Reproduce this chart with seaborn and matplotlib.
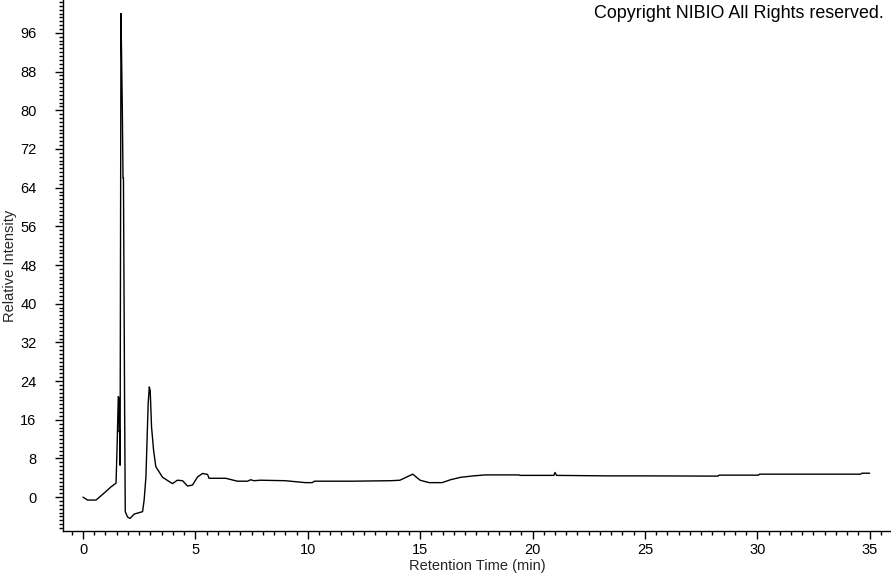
import numpy as np
import pandas as pd
import seaborn as sns
import matplotlib.pyplot as plt
from matplotlib.ticker import MultipleLocator

# chromatogram trace (retention time in min, relative intensity)
rt_min = [
    0.00, 0.20, 0.58, 0.93, 1.24, 1.47, 1.52, 1.57, 1.60, 1.61, 1.64, 1.65,
    1.69, 1.72, 1.75, 1.78, 1.80, 1.85, 1.88, 1.98, 2.09, 2.28, 2.65, 2.72,
    2.80, 2.90, 2.95, 2.99, 3.05, 3.14, 3.24, 3.39, 3.54, 3.98, 4.20, 4.43,
    4.65, 4.87, 5.10, 5.32, 5.54, 5.61, 6.35, 6.87, 7.32, 7.46, 7.60, 7.90,
    9.00, 9.90, 10.20, 10.30, 12.00, 13.70, 14.10, 14.67, 15.00, 15.40, 15.98,
    16.35, 16.80, 17.38, 17.90, 19.38, 19.45, 20.95, 21.00, 21.07, 23.30,
    24.80, 28.25, 28.30, 30.05, 30.10, 34.60, 34.65, 35.00,
]
intensity = [
    0.0, -0.6, -0.6, 0.8, 2.1, 2.9, 11.0, 20.8, 20.5, 13.5, 14.0, 6.6,
    100.0, 90.0, 80.0, 66.0, 66.0, 20.0, -3.0, -4.1, -4.4, -3.5, -3.0, -0.6,
    4.2, 19.4, 22.8, 22.0, 14.5, 9.7, 6.3, 5.2, 4.1, 2.8, 3.5, 3.4,
    2.3, 2.5, 4.2, 4.9, 4.7, 3.9, 3.9, 3.3, 3.3, 3.6, 3.4, 3.5,
    3.4, 3.0, 3.0, 3.3, 3.3, 3.4, 3.5, 4.75, 3.5, 3.0, 3.0,
    3.6, 4.1, 4.4, 4.6, 4.6, 4.5, 4.5, 5.1, 4.5, 4.4,
    4.4, 4.35, 4.55, 4.55, 4.75, 4.75, 4.95, 4.95,
]

y_ticks = list(range(0, 97, 8))
x_ticks = [0, 5, 10, 15, 20, 25, 30, 35]

df = pd.DataFrame({"rt": rt_min, "rel": intensity})

sns.set_style("ticks")
plt.rcParams["font.family"] = ["Liberation Sans", "DejaVu Sans"]

fig = plt.figure(figsize=(8.91, 5.73), dpi=100)
ax = fig.add_axes([63 / 891, 42 / 573, 1 - 63 / 891, 1 - 42 / 573])

sns.lineplot(data=df, x="rt", y="rel", ax=ax, color="black", linewidth=1.0,
             estimator=None, sort=False)

ax.set_xlim(-0.89, 35.95)
ax.set_ylim(-7.0, 102.8)
ax.set_xticks(x_ticks)
ax.set_yticks(y_ticks)
ax.xaxis.set_minor_locator(MultipleLocator(0.5))
ax.yaxis.set_minor_locator(MultipleLocator(0.8))
ax.tick_params(axis="both", which="major", length=6, width=1, color="black",
               labelsize=10.5, labelcolor="black")
ax.tick_params(axis="x", which="major", pad=3)
ax.tick_params(axis="y", which="major", pad=13)
ax.tick_params(axis="both", which="minor", length=3, width=1, color="black")

for side in ["top", "right"]:
    ax.spines[side].set_visible(False)
for side in ["left", "bottom"]:
    ax.spines[side].set_color("black")
    ax.spines[side].set_linewidth(1.0)

ax.set_xlabel("Retention Time (min)", fontsize=10.5, va="center")
ax.xaxis.set_label_coords(0.5, -35 / 531)
ax.set_ylabel("Relative Intensity", fontsize=10.5, va="center")
ax.yaxis.set_label_coords(-53 / 828, 0.5)

fig.text(884 / 891, 1 - 14 / 573, "Copyright NIBIO All Rights reserved.",
         ha="right", va="center", fontsize=12.9, color="black")

fig.savefig("out.png", dpi=100)
plt.close(fig)
